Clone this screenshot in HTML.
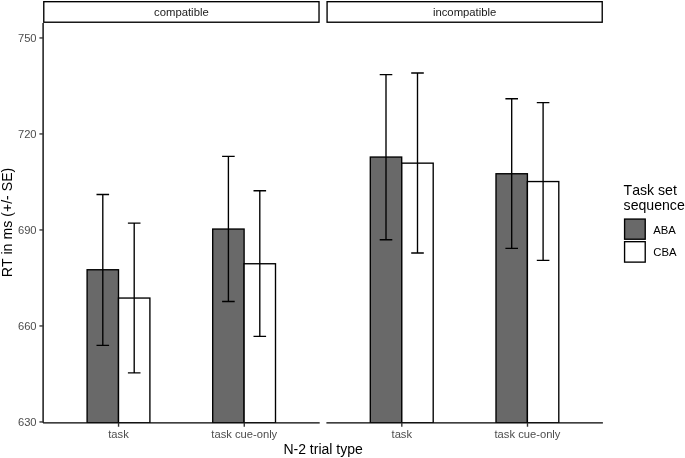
<!DOCTYPE html>
<html><head><meta charset="utf-8"><title>Plot</title>
<style>html,body{margin:0;padding:0;background:#fff}body{width:685px;height:458px;overflow:hidden}</style>
</head><body>
<svg width="685" height="458" viewBox="0 0 685 458" style="display:block">
<rect width="685" height="458" fill="#fff"/>
<g font-family="'Liberation Sans', Arial, sans-serif" style="font-kerning:none">
<rect x="87.10" y="269.75" width="31.40" height="153.10" fill="#696969" stroke="#000" stroke-width="1.36"/>
<rect x="118.50" y="298.05" width="31.40" height="124.80" fill="#fff" stroke="#000" stroke-width="1.36"/>
<rect x="212.70" y="229.05" width="31.40" height="193.80" fill="#696969" stroke="#000" stroke-width="1.36"/>
<rect x="244.10" y="263.75" width="31.40" height="159.10" fill="#fff" stroke="#000" stroke-width="1.36"/>
<path d="M96.50 194.45H109.10M102.80 194.45V345.35M96.50 345.35H109.10" fill="none" stroke="#000" stroke-width="1.36"/>
<path d="M127.90 223.15H140.50M134.20 223.15V372.85M127.90 372.85H140.50" fill="none" stroke="#000" stroke-width="1.36"/>
<path d="M222.10 156.35H234.70M228.40 156.35V301.55M222.10 301.55H234.70" fill="none" stroke="#000" stroke-width="1.36"/>
<path d="M253.50 190.75H266.10M259.80 190.75V336.35M253.50 336.35H266.10" fill="none" stroke="#000" stroke-width="1.36"/>
<rect x="370.30" y="157.05" width="31.40" height="265.80" fill="#696969" stroke="#000" stroke-width="1.36"/>
<rect x="401.80" y="163.15" width="31.40" height="259.70" fill="#fff" stroke="#000" stroke-width="1.36"/>
<rect x="496.00" y="173.75" width="31.40" height="249.10" fill="#696969" stroke="#000" stroke-width="1.36"/>
<rect x="527.40" y="181.55" width="31.40" height="241.30" fill="#fff" stroke="#000" stroke-width="1.36"/>
<path d="M379.70 74.65H392.30M386.00 74.65V239.75M379.70 239.75H392.30" fill="none" stroke="#000" stroke-width="1.36"/>
<path d="M411.20 72.95H423.80M417.50 72.95V252.95M411.20 252.95H423.80" fill="none" stroke="#000" stroke-width="1.36"/>
<path d="M505.40 98.75H518.00M511.70 98.75V248.35M505.40 248.35H518.00" fill="none" stroke="#000" stroke-width="1.36"/>
<path d="M536.80 102.65H549.40M543.10 102.65V260.35M536.80 260.35H549.40" fill="none" stroke="#000" stroke-width="1.36"/>
<rect x="0" y="422.85" width="685" height="35.15" fill="#fff"/>
<rect x="43.78" y="1.68" width="275.24" height="20.54" fill="#fff" stroke="#000" stroke-width="1.36"/>
<text x="181.40" y="16" font-size="11.3" fill="#1a1a1a" text-anchor="middle">compatible</text>
<rect x="327.08" y="1.68" width="275.14" height="20.54" fill="#fff" stroke="#000" stroke-width="1.36"/>
<text x="464.65" y="16" font-size="11.3" fill="#1a1a1a" text-anchor="middle">incompatible</text>
<path d="M43.10 22.90V422.85" stroke="#000" stroke-width="1.36" fill="none"/>
<path d="M43.10 422.85H319.70" stroke="#000" stroke-width="1.36" fill="none"/>
<path d="M326.40 422.85H602.90" stroke="#000" stroke-width="1.36" fill="none"/>
<path d="M39.40 421.95H43.10" stroke="#333" stroke-width="1.36" fill="none"/>
<text x="36.6" y="425.95" font-size="11.2" fill="#4d4d4d" text-anchor="end">630</text>
<path d="M39.40 325.95H43.10" stroke="#333" stroke-width="1.36" fill="none"/>
<text x="36.6" y="329.95" font-size="11.2" fill="#4d4d4d" text-anchor="end">660</text>
<path d="M39.40 229.95H43.10" stroke="#333" stroke-width="1.36" fill="none"/>
<text x="36.6" y="233.95" font-size="11.2" fill="#4d4d4d" text-anchor="end">690</text>
<path d="M39.40 133.95H43.10" stroke="#333" stroke-width="1.36" fill="none"/>
<text x="36.6" y="137.95" font-size="11.2" fill="#4d4d4d" text-anchor="end">720</text>
<path d="M39.40 37.95H43.10" stroke="#333" stroke-width="1.36" fill="none"/>
<text x="36.6" y="41.95" font-size="11.2" fill="#4d4d4d" text-anchor="end">750</text>
<path d="M118.54 422.85V426.75" stroke="#333" stroke-width="1.36" fill="none"/>
<text x="118.54" y="438" font-size="11.2" fill="#4d4d4d" text-anchor="middle">task</text>
<path d="M244.26 422.85V426.75" stroke="#333" stroke-width="1.36" fill="none"/>
<text x="244.26" y="438" font-size="11.2" fill="#4d4d4d" text-anchor="middle">task cue-only</text>
<path d="M401.81 422.85V426.75" stroke="#333" stroke-width="1.36" fill="none"/>
<text x="401.81" y="438" font-size="11.2" fill="#4d4d4d" text-anchor="middle">task</text>
<path d="M527.49 422.85V426.75" stroke="#333" stroke-width="1.36" fill="none"/>
<text x="527.49" y="438" font-size="11.2" fill="#4d4d4d" text-anchor="middle">task cue-only</text>
<text x="323.1" y="454" font-size="14" fill="#000" text-anchor="middle">N-2 trial type</text>
<text transform="translate(12.2,222.5) rotate(-90)" font-size="14.15" fill="#000" text-anchor="middle">RT in ms (+/- SE)</text>
<text x="623.6" y="195" font-size="14.1" fill="#000">Task set</text>
<text x="623.6" y="210" font-size="14.1" fill="#000">sequence</text>
<rect x="624.58" y="219.08" width="20.64" height="20.14" fill="#696969" stroke="#000" stroke-width="1.36"/>
<text x="653.3" y="233.50" font-size="11.3" fill="#000">ABA</text>
<rect x="624.58" y="241.68" width="20.64" height="20.44" fill="#fff" stroke="#000" stroke-width="1.36"/>
<text x="653.3" y="255.80" font-size="11.3" fill="#000">CBA</text>
</g></svg>
</body></html>
